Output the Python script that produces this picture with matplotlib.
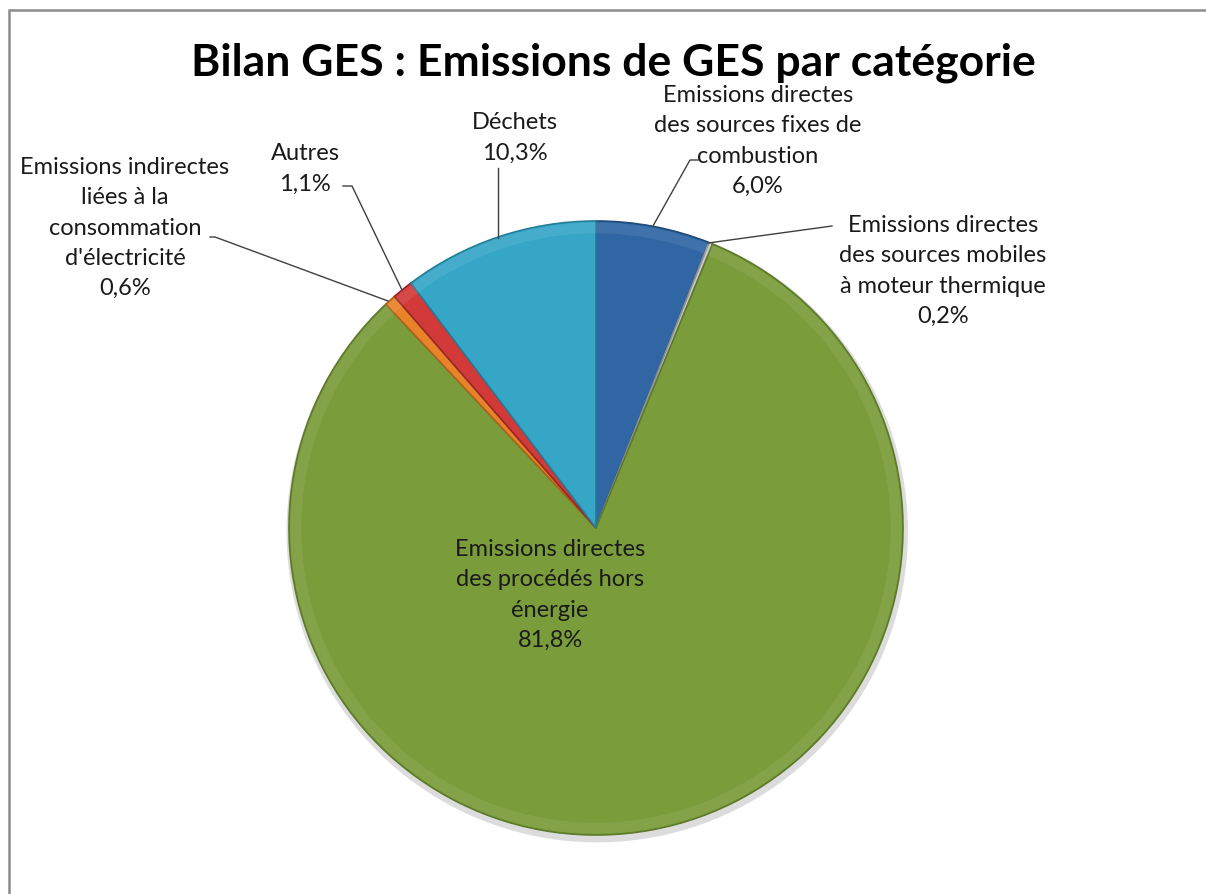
import numpy as np
import matplotlib
matplotlib.use('Agg')
from matplotlib import pyplot as plt
from matplotlib.patches import Rectangle, Wedge

plt.rcParams['font.family'] = ['Lato', 'DejaVu Sans']

# data
categories = ['Emissions directes\ndes sources fixes de\ncombustion',
              'Emissions directes\ndes sources mobiles\nà moteur thermique',
              'Emissions directes\ndes procédés hors\nénergie',
              'Emissions indirectes\nliées à la\nconsommation\nd\'électricité',
              'Autres',
              'Déchets']
values = [6.0, 0.2, 81.8, 0.6, 1.1, 10.3]
colors = ['#2F66A3', '#C8C8C8', '#7A9C3A', '#E8832A', '#D23A3A', '#36A6C7']
edges = ['#1F4A7A', '#909090', '#5C7A2A', '#B0611C', '#9A2626', '#257E99']

W, H = 1206, 894
CX, CY, R = 596, 528, 307   # pie centre / radius in pixels


def px(x, y):
    # pixel position -> data coords (pie radius = 1)
    return ((x - CX) / R, (CY - y) / R)


fig = plt.figure(figsize=(W / 100, H / 100), dpi=100)
ax = fig.add_axes([0, 0, 1, 1])

# soft shadow
ax.pie(values, radius=1.012, center=(0.004, -0.012), startangle=90, counterclock=False,
       colors=['#dcdcdc'] * len(values), wedgeprops=dict(linewidth=0))
wedges, _ = ax.pie(values, radius=1.0, startangle=90, counterclock=False, colors=colors,
                   wedgeprops=dict(linewidth=1.2))
for w, e in zip(wedges, edges):
    w.set_edgecolor(e)

# bevel highlight ring
for w in wedges:
    ax.add_patch(Wedge((0, 0), 0.995, w.theta1, w.theta2, width=0.035,
                       facecolor='white', alpha=0.08, linewidth=0))

ax.set_xlim(-CX / R, (W - CX) / R)
ax.set_ylim(-(H - CY) / R, CY / R)
ax.set_aspect('equal')
ax.axis('off')

pct = [f'{v:.1f}%'.replace('.', ',') for v in values]
lab = dict(fontsize=17, color='#1a1a1a', ha='center', va='center', linespacing=1.55)
lc = dict(color='#404040', lw=1.0)

# blue
ax.text(*px(758, 141), categories[0] + '\n' + pct[0], **lab)
ax.plot(*zip(px(653, 226), px(690, 160), px(698, 160)), **lc)
# mobile
ax.text(*px(943, 271), categories[1] + '\n' + pct[1], **lab)
ax.plot(*zip(px(708, 243), px(832, 226)), **lc)
# procedes (inside)
ax.text(*px(550, 595), categories[2] + '\n' + pct[2], **lab)
# electricite
ax.text(*px(125, 228), categories[3] + '\n' + pct[3], **lab)
ax.plot(*zip(px(388, 301), px(215, 237), px(210, 237)), **lc)
# autres
ax.text(*px(305, 169), categories[4] + '\n' + pct[4], **lab)
ax.plot(*zip(px(402, 290), px(352, 186), px(343, 186)), **lc)
# dechets
ax.text(*px(515, 138), categories[5] + '\n' + pct[5], **lab)
ax.plot(*zip(px(498, 238), px(498, 168)), **lc)

fig.text(613 / W, 1 - 63 / H, 'Bilan GES : Emissions de GES par catégorie',
         fontsize=32, fontweight='bold', ha='center', va='center', color='black')

fig.patches.append(Rectangle((9 / W, -0.1), 1.2, 1.1 - 10 / H, transform=fig.transFigure,
                             fill=False, edgecolor='#8c8c8c', linewidth=1.8))

fig.savefig('out.png', dpi=100)
